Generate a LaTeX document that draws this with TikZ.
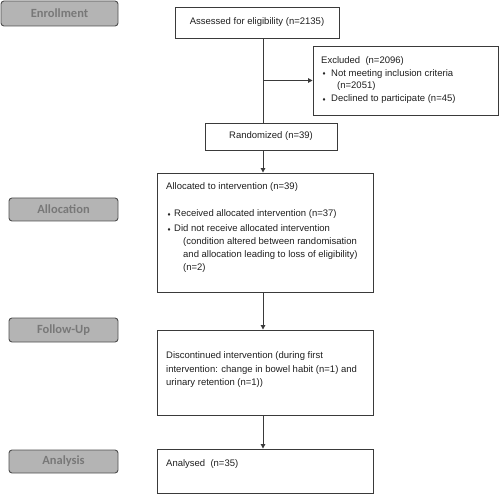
\documentclass[tikz,border=0pt]{standalone}
\usepackage{fontspec}
\setmainfont{Liberation Sans}
\newfontfamily\labfont{Carlito}
\newfontfamily\dejavu{DejaVu Sans}
\usetikzlibrary{arrows.meta}
\definecolor{labfill}{HTML}{B4B4B4}
\definecolor{labdraw}{HTML}{505050}
\definecolor{labtext}{HTML}{787878}
\definecolor{boxdraw}{HTML}{3A3A3A}
\definecolor{txtcol}{HTML}{1E1E1E}
\newcommand\bulA{\makebox[8pt][l]{\hspace{1pt}\raisebox{0.3pt}{\dejavu\fontsize{4.5}{5}\selectfont ♦}}}
\newcommand\bulE{\makebox[10pt][l]{\hspace{1pt}\raisebox{0.3pt}{\dejavu\fontsize{4.5}{5}\selectfont ♦}}}
\begin{document}
\begin{tikzpicture}[x=1pt,y=-1pt,
  lab/.style={draw=labdraw, fill=labfill, rounded corners=3pt, line width=0.9pt,
    font=\labfont\bfseries\fontsize{12.5}{14}\selectfont, text=labtext, inner sep=0pt},
  box/.style={draw=boxdraw, line width=0.9pt, inner sep=0pt, text=txtcol,
    font=\fontsize{9.5}{13}\selectfont},
  txt/.style={anchor=base west, inner sep=0pt, align=left, text=txtcol,
    font=\fontsize{9.5}{13}\selectfont},
  conn/.style={draw=boxdraw, line width=1pt},
  arr/.style={conn, -{Triangle[length=4.5pt,width=4.5pt]}}
]
\useasboundingbox (0,0) rectangle (500,494);
% stage labels
\node[lab, minimum width=117pt, minimum height=25pt] (enroll) at (59.5,13.5) {Enrollment};
\node[lab, minimum width=109pt, minimum height=23pt] (alloclab) at (63.5,209.5) {Allocation};
\node[lab, minimum width=109pt, minimum height=24pt] (fuplab) at (63.5,330) {Follow-Up};
\node[lab, minimum width=109pt, minimum height=23pt] (anlab) at (63.5,461.5) {Analysis};
% boxes
\node[box, minimum width=164pt, minimum height=31pt] (assessed) at (257,22.5) {Assessed for eligibility (n=2135)};
\node[box, minimum width=185pt, minimum height=69pt] (excl) at (405.5,80.5) {};
\node[box, minimum width=132pt, minimum height=27pt] (rand) at (271,136.5) {Randomized (n=39)\hspace{10pt}};
\node[box, minimum width=216pt, minimum height=119pt] (alloc) at (265,232.5) {};
\node[box, minimum width=216pt, minimum height=85pt] (fup) at (265,372.5) {};
\node[box, minimum width=216pt, minimum height=44pt] (anal) at (265,471) {};
% texts (base anchor = baseline of the last line)
\node[txt, font=\fontsize{9.5}{12.7}\selectfont] (excltxt) at (321,101.5) {Excluded\ \ (n=2096)\\
\bulE Not meeting inclusion criteria\\
\hspace*{16pt}(n=2051)\\
\bulE Declined to participate (n=45)};
\node[txt] (alloctxt) at (166,270.5) {Allocated to intervention (n=39)\\[14pt]
\bulA Received allocated intervention (n=37)\\[2pt]
\bulA Did not receive allocated intervention\\
\hspace*{17pt}(condition altered between randomisation\\
\hspace*{17pt}and allocation leading to loss of eligibility)\\
\hspace*{17pt}(n=2)};
\node[txt, font=\fontsize{9.5}{13.5}\selectfont] (fuptxt) at (166,385.5) {Discontinued intervention (during first\\
intervention: change in bowel habit (n=1) and\\
urinary retention (n=1))};
\node[txt] (antxt) at (166,466.5) {Analysed\ \ (n=35)};
% connectors
\coordinate (sp) at (263,0);
\draw[conn] (sp |- assessed.south) -- (sp |- rand.north);
\draw[arr] (sp |- excl.west) -- (excl.west);
\draw[arr] (sp |- rand.south) -- (sp |- alloc.north);
\draw[arr] (sp |- alloc.south) -- (sp |- fup.north);
\draw[arr] (sp |- fup.south) -- (sp |- anal.north);
\end{tikzpicture}
\end{document}
